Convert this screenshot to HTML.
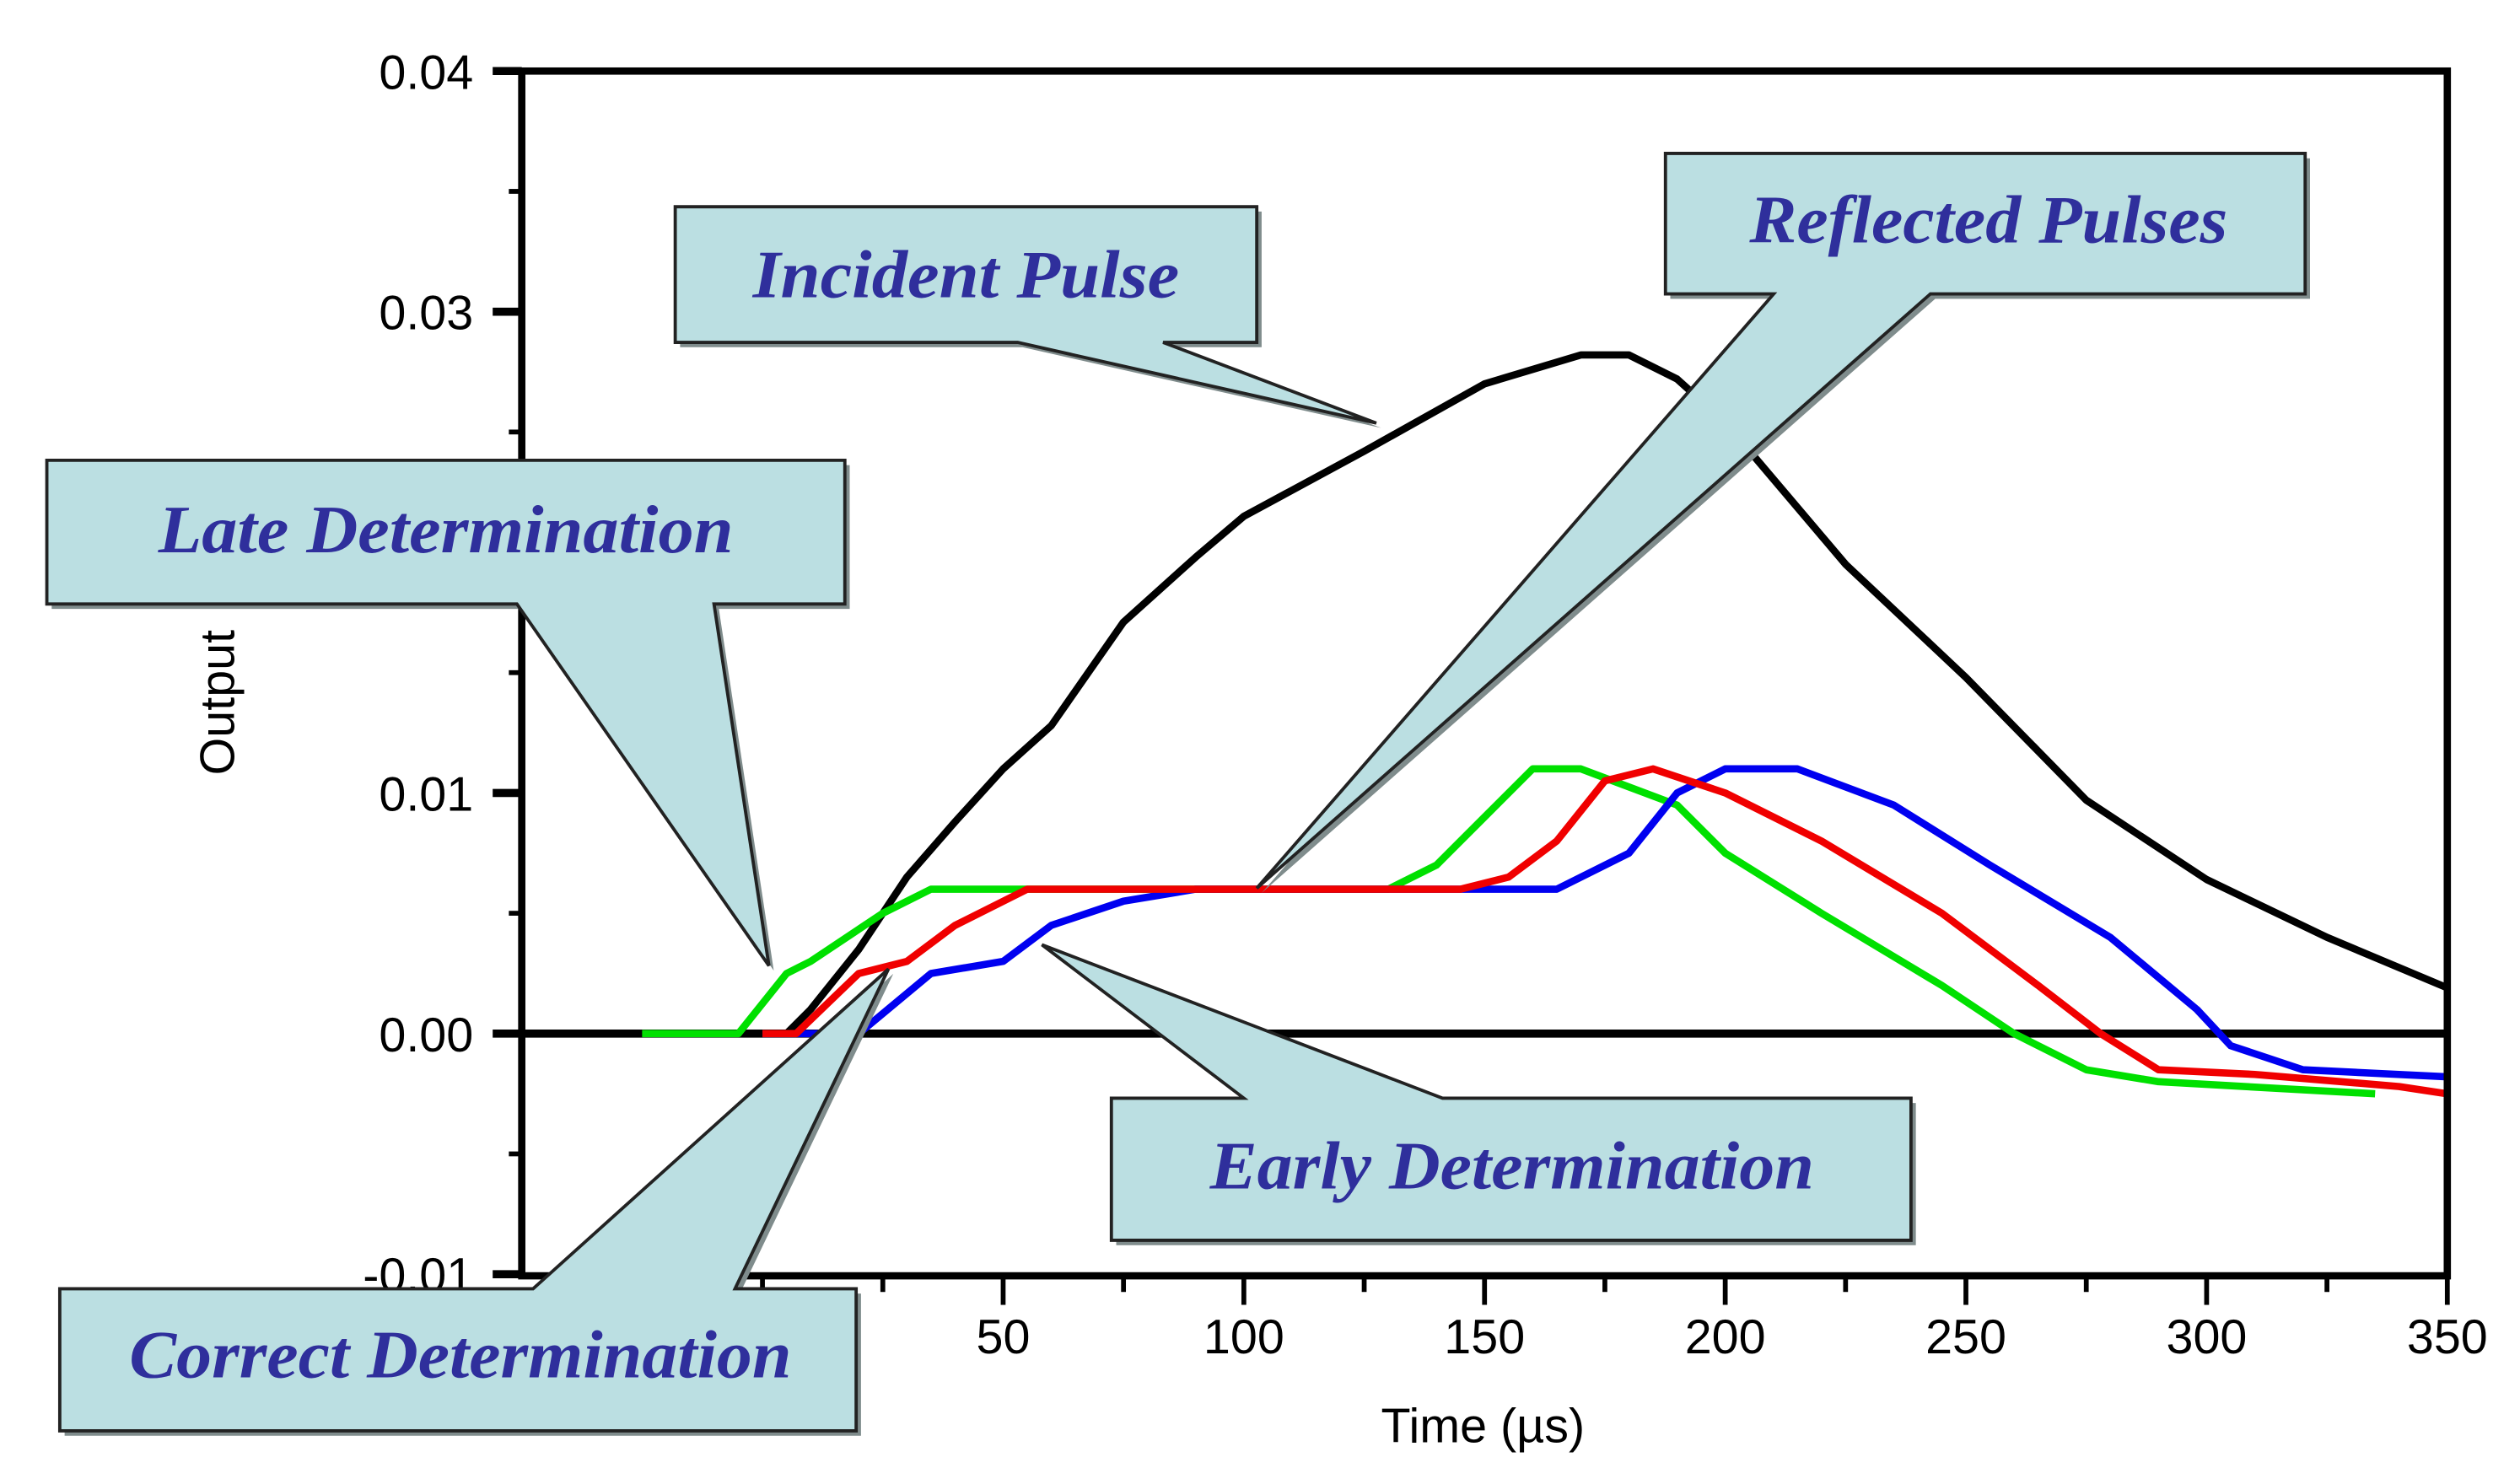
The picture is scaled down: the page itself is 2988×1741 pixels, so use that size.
<!DOCTYPE html>
<html><head><meta charset="utf-8"><style>
html,body{margin:0;padding:0;background:#fff;}
svg{display:block;}
.tick{font-family:"Liberation Sans",sans-serif;font-size:30px;fill:#000;}
.call{font-family:"Liberation Serif",serif;font-style:italic;font-weight:bold;font-size:42px;fill:#2f2f9c;}
</style></head><body>
<svg id="chart" width="2988" height="1741" viewBox="0 0 1560 909" preserveAspectRatio="none" xmlns="http://www.w3.org/2000/svg">
<g id="marks"></g>
<g id="axes"></g>
<g id="callouts"></g>
</svg>
<script>
const xTicks=[50,100,150,200,250,300,350];
const yTicks=[0.04,0.03,0.01,0.00,-0.01];
const yTickLabels=["0.04","0.03","0.01","0.00","-0.01"];
const incidentT=[5,10,20,30,40,50,60,75,90,100,125,150,170,180,190,200,225,250,275,300,325,350];
const incidentV=[0,0.001,0.0035,0.0065,0.0088,0.011,0.0128,0.0171,0.0198,0.0215,0.0242,0.027,0.0282,0.0282,0.0272,0.0254,0.0195,0.0148,0.0097,0.0064,0.004,0.0019];
const greenT=[-25,-5,5,10,25,35,130,140,150,160,170,190,200,220,245,260,275,290,335];
const greenV=[0,0,0.0025,0.003,0.005,0.006,0.006,0.007,0.009,0.011,0.011,0.0095,0.0075,0.005,0.002,0,-0.0015,-0.002,-0.0025];
const redT=[0,7,20,30,40,55,145,155,165,175,185,200,220,245,265,278,290,310,340,350];
const redV=[0,0,0.0025,0.003,0.0045,0.006,0.006,0.0065,0.008,0.0105,0.011,0.01,0.008,0.005,0.002,0,-0.0015,-0.0017,-0.0022,-0.0025];
const blueT=[0,20,35,50,60,75,90,165,180,190,200,215,235,255,280,298,305,320,350];
const blueV=[0,0,0.0025,0.003,0.0045,0.0055,0.006,0.006,0.0075,0.01,0.011,0.011,0.0095,0.007,0.004,0.001,-0.0005,-0.0015,-0.0018];

const L=323,R=1515,T=44,B=790;
function X(t){return 472+(t)*(1515-472)/350;}
function Y(v){return 640-v*14900;}
const NS="http://www.w3.org/2000/svg";
function mk(tag,attrs,parent){const e=document.createElementNS(NS,tag);for(const k in attrs)e.setAttribute(k,attrs[k]);parent.appendChild(e);return e;}
const marks=document.getElementById('marks'),axes=document.getElementById('axes'),co=document.getElementById('callouts');

function series(ts,vs,color,name){
  const d=ts.map((t,i)=>(i?'L':'M')+X(t).toFixed(1)+','+Y(vs[i]).toFixed(1)).join(' ');
  const p=mk('path',{d:d,fill:'none',stroke:color,'stroke-width':4.5,'stroke-linejoin':'round'},marks);
  
  
}
const z=mk('line',{x1:L,x2:R,y1:Y(0),y2:Y(0),stroke:'#000','stroke-width':5},marks);


series(incidentT,incidentV,'#000','incident-pulse-line');
series(greenT,greenV,'#00e000','late-determination-line');
series(blueT,blueV,'#0000f0','early-determination-line');
series(redT,redV,'#f00000','correct-determination-line');

const fr=mk('rect',{x:L,y:T,width:R-L,height:B-T,fill:'none',stroke:'#000','stroke-width':4.5},axes);


for(let t=-25;t<=350;t+=25){
  const major=t%50===0;
  const tk=mk('line',{x1:X(t),x2:X(t),y1:B,y2:B+(major?18:10),stroke:'#000','stroke-width':3},axes);
  
  
}
xTicks.forEach(t=>{
  const tx=mk('text',{x:X(t),y:B+48,'text-anchor':'middle',class:'tick'},axes);
  tx.textContent=String(t);
  
  
});
for(let i=-2;i<=8;i++){
  const v=i*0.005;const major=i%2===0;
  const tk=mk('line',{x1:L,x2:L-(major?18:8),y1:Y(v),y2:Y(v),stroke:'#000','stroke-width':major?5:3},axes);
  
  
}
yTicks.forEach((v,i)=>{
  const tx=mk('text',{x:L-30,y:Y(v)+11,'text-anchor':'end',class:'tick'},axes);
  tx.textContent=yTickLabels[i];
  
  
});
const xl=mk('text',{x:918,y:893,'text-anchor':'middle',class:'tick','font-size':36},axes);
xl.textContent='Time (µs)';


const yl=mk('text',{x:0,y:0,'text-anchor':'middle',class:'tick','font-size':34,transform:'translate(145,435) rotate(-90)'},axes);
yl.textContent='Output';



function callout(name,x,y,w,h,p1,p2,tip,label,tx,ty,tl){
  const g=mk('g',{},co);
  
  
  let poly;
  if(p1[1]===y+h){poly=[[x,y],[x+w,y],[x+w,y+h],p2,tip,p1,[x,y+h]];}
  else {poly=[[x,y],p1,tip,p2,[x+w,y],[x+w,y+h],[x,y+h]];}
  mk('polygon',{points:poly.map(p=>(p[0]+3)+','+(p[1]+3)).join(' '),fill:'#7f8c8c'},g);
  mk('polygon',{points:poly.map(p=>p.join(',')).join(' '),fill:'#bbdfe2',stroke:'#222','stroke-width':2},g);
  const t=mk('text',{x:tx,y:ty,'text-anchor':'middle',class:'call',textLength:tl,lengthAdjust:'spacingAndGlyphs'},g);
  t.textContent=label;
}
callout('incident-pulse-callout',418,128,360,84,[630,212],[720,212],[852,262],'Incident Pulse',598,184,264);
callout('reflected-pulses-callout',1031,95,396,87,[1098,182],[1195,182],[778,550],'Reflected Pulses',1231,150,296);
callout('late-determination-callout',29,285,494,89,[320,374],[442,374],[476,598],'Late Determination',276,342,356);
callout('early-determination-callout',688,680,495,88,[770,680],[893,680],[645,585],'Early Determination',936,736,374);
callout('correct-determination-callout',37,798,493,88,[330,798],[455,798],[550,600],'Correct Determination',285,853,410);
</script>
</body></html>
